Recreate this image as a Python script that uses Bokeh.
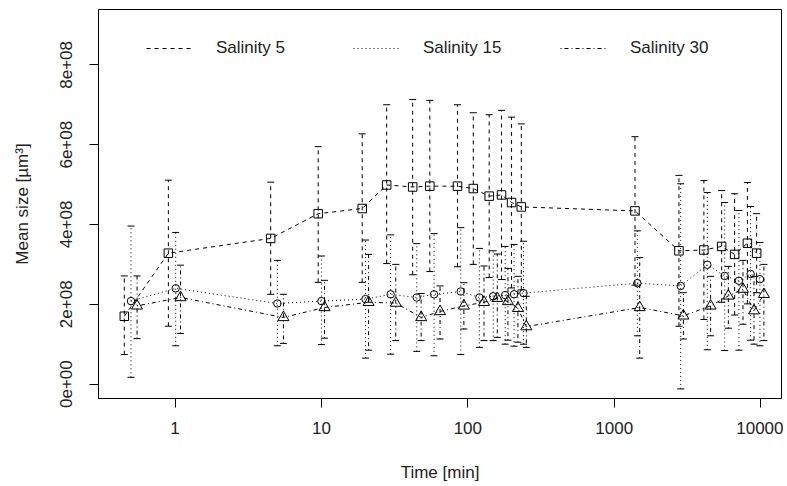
import math
from bokeh.plotting import figure
from bokeh.models import (ColumnDataSource, Whisker, TeeHead, Legend, LegendItem,
                          FixedTicker, BasicTickFormatter, CustomJSTickFormatter, Range1d)
from bokeh.embed import file_html
from bokeh.resources import INLINE

# ---- data (mean size in µm³, time in min) ----
t5 = [0.45, 0.9, 4.5, 9.5, 19, 27.9, 42, 55, 85, 109, 140, 170, 199, 232, 1387, 2770, 4100, 5420, 6650, 8130, 9400]
m5 = [1.70, 3.28, 3.65, 4.27, 4.40, 4.99, 4.94, 4.96, 4.96, 4.90, 4.71, 4.74, 4.55, 4.44, 4.34, 3.34, 3.36, 3.45, 3.25, 3.53, 3.28]
u5 = [2.71, 5.11, 5.06, 5.95, 6.27, 7.00, 7.13, 7.11, 7.00, 6.80, 6.75, 6.86, 6.69, 6.52, 6.20, 5.23, 5.10, 4.85, 4.77, 5.05, 4.27]
l5 = [0.74, 1.45, 2.25, 2.55, 2.55, 3.02, 2.74, 2.82, 2.94, 3.00, 2.67, 2.62, 2.41, 2.36, 2.48, 1.45, 1.62, 2.05, 1.73, 2.01, 2.29]

t15 = [0.50, 1.01, 5.0, 10, 20, 29.7, 44.8, 58.8, 89.5, 120, 149, 180, 207, 240, 1440, 2845, 4326, 5685, 7115, 8550, 9900]
m15 = [2.08, 2.40, 2.02, 2.08, 2.13, 2.25, 2.17, 2.25, 2.32, 2.17, 2.20, 2.23, 2.25, 2.28, 2.53, 2.46, 2.99, 2.71, 2.59, 2.76, 2.63]
u15 = [3.96, 3.80, 3.10, 3.21, 3.61, 3.74, 3.52, 3.77, 3.92, 3.40, 3.34, 3.45, 3.50, 3.58, 3.84, 5.02, 4.80, 4.55, 4.35, 4.45, 3.55]
l15 = [0.17, 0.96, 0.96, 0.99, 0.65, 0.75, 0.82, 0.71, 0.74, 0.92, 1.09, 1.00, 0.95, 1.00, 1.21, -0.12, 0.86, 0.84, 0.85, 1.10, 0.96]

t30 = [0.55, 1.09, 5.5, 10.5, 21, 32.2, 48, 64.6, 94, 129, 159, 188, 220, 251, 1494, 2970, 4557, 6025, 7585, 9020, 10540]
m30 = [1.96, 2.17, 1.67, 1.92, 2.05, 2.03, 1.67, 1.82, 1.96, 2.05, 2.15, 2.07, 1.90, 1.44, 1.92, 1.71, 1.96, 2.21, 2.38, 1.84, 2.25]
u30 = [2.71, 2.98, 2.25, 2.60, 3.25, 3.00, 2.27, 2.46, 2.54, 2.96, 3.26, 2.90, 2.70, 2.20, 3.17, 2.29, 2.70, 2.95, 3.10, 2.70, 3.00]
l30 = [1.14, 1.27, 1.02, 1.15, 0.85, 1.09, 1.09, 1.13, 1.38, 1.09, 1.17, 1.10, 1.05, 0.92, 0.65, 1.13, 1.21, 1.40, 1.50, 1.00, 1.09]

labels = ["Salinity 5", "Salinity 15", "Salinity 30"]
x_ticks = [1, 10, 100, 1000, 10000]
y_ticks = [0, 2e8, 4e8, 6e8, 8e8]
SCALE = 1e8

FONT = "Liberation Sans"
FS = "17px"
TXT = "#222222"

p = figure(width=783, height=484, x_axis_type="log",
           x_range=Range1d(0.2999, 13900), y_range=Range1d(-0.361e8, 9.387e8),
           output_backend="svg", toolbar_location=None,
           min_border_left=98, min_border_right=2, min_border_top=9, min_border_bottom=86)
p.background_fill_color = "white"
p.border_fill_color = "white"
p.outline_line_color = "black"
p.outline_line_width = 1
p.grid.visible = False

series = [
    (t5, m5, u5, l5, "4 4", "square", 8.5),
    (t15, m15, u15, l15, "1 3", "circle", 7.5),
    (t30, m30, u30, l30, "1 3 4 3", "triangle", 11),
]
line_renderers = []
for t, m, u, l, dash, marker, size in series:
    src = ColumnDataSource(dict(t=t, m=[v * SCALE for v in m],
                                u=[v * SCALE for v in u], l=[v * SCALE for v in l]))
    w = Whisker(source=src, base="t", upper="u", lower="l", dimension="height",
                line_color="black", line_width=1, line_dash=dash,
                upper_head=TeeHead(size=7, line_color="black", line_width=1),
                lower_head=TeeHead(size=7, line_color="black", line_width=1))
    p.add_layout(w)
    lr = p.line("t", "m", source=src, line_color="black", line_width=1, line_dash=dash)
    p.scatter("t", "m", source=src, marker=marker, size=size,
              fill_color=None, line_color="black", line_width=1)
    line_renderers.append(lr)

# legends: three separate horizontal items at the top
leg_x = [48, 255, 462]
for lab, lr, lx in zip(labels, line_renderers, leg_x):
    leg = Legend(items=[LegendItem(label=lab, renderers=[lr])], location=(lx, 340),
                 orientation="horizontal", border_line_color=None, background_fill_alpha=0,
                 padding=0, margin=0, glyph_width=48, glyph_height=20, label_height=20,
                 label_standoff=22, label_text_font=FONT, label_text_font_size=FS,
                 label_text_color=TXT)
    p.add_layout(leg)

# axes
p.xaxis.ticker = FixedTicker(ticks=x_ticks, minor_ticks=[])
p.xaxis.formatter = BasicTickFormatter()
p.yaxis.ticker = FixedTicker(ticks=y_ticks, minor_ticks=[])
p.yaxis.formatter = CustomJSTickFormatter(
    code="return tick.toExponential(0).replace(/e([+-])(\\d)$/, 'e$10$2');")
p.yaxis.major_label_orientation = "parallel"

for ax in (p.xaxis, p.yaxis):
    ax.axis_line_color = "black"
    ax.major_tick_line_color = "black"
    ax.major_tick_out = 9
    ax.major_tick_in = 0
    ax.minor_tick_line_color = None
    ax.major_label_text_font = FONT
    ax.major_label_text_font_size = FS
    ax.major_label_text_color = TXT
    ax.axis_label_text_font = FONT
    ax.axis_label_text_font_size = FS
    ax.axis_label_text_font_style = "normal"
    ax.axis_label_text_color = TXT

p.xaxis.major_label_standoff = 14
p.yaxis.major_label_standoff = 17
p.xaxis.axis_label = "Time [min]"
p.yaxis.axis_label = "Mean size [µm³]"
p.xaxis.axis_label_standoff = 26
p.yaxis.axis_label_standoff = 26

open("out.html", "w").write(file_html(p, INLINE))
